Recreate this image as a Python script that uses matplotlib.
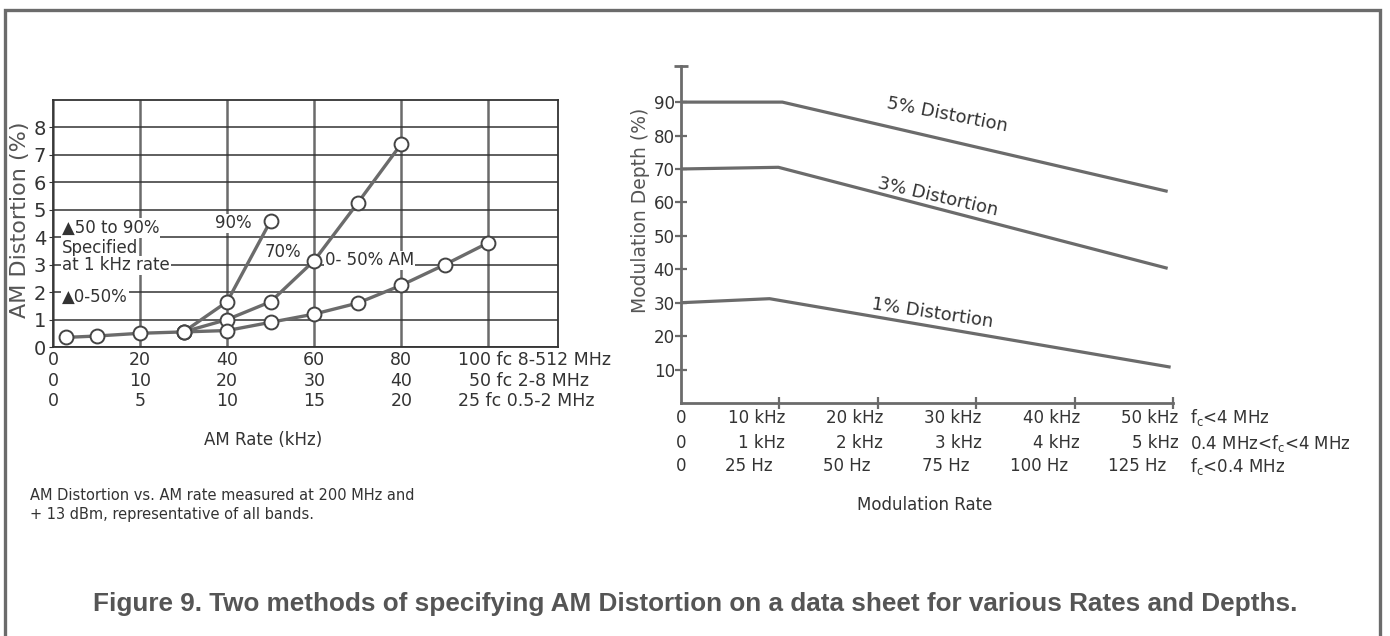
import matplotlib.pyplot as plt
from matplotlib.patches import Rectangle

plt.rcParams["font.family"] = "DejaVu Sans"
plt.rcParams["mathtext.fontset"] = "dejavusans"

GRAY = "#6b6b6b"
DARK = "#333333"

# left chart: AM distortion vs AM rate
base_x = [3, 10, 20, 30, 40, 50, 60, 70, 80, 90, 100]
base_y = [0.35, 0.4, 0.5, 0.55, 0.6, 0.9, 1.2, 1.6, 2.25, 3.0, 3.8]
am70_x = [30, 40, 50, 60, 70, 80]
am70_y = [0.55, 1.0, 1.65, 3.15, 5.25, 7.4]
am90_x = [30, 40, 50]
am90_y = [0.55, 1.65, 4.6]

left_ticks = [0, 20, 40, 60, 80]
left_rows = [["0", "20", "40", "60", "80"],
             ["0", "10", "20", "30", "40"],
             ["0", "5", "10", "15", "20"]]
left_last = ["100 fc 8-512 MHz", "50 fc 2-8 MHz", "25 fc 0.5-2 MHz"]

# right chart: modulation depth vs modulation rate
d5_x = [0, 10.3, 49.3]
d5_y = [90, 90, 63.4]
d3_x = [0, 9.9, 49.3]
d3_y = [70, 70.5, 40.4]
d1_x = [0, 9, 49.6]
d1_y = [30, 31.2, 10.8]

rate_ticks = [0, 10, 20, 30, 40, 50]
rate_rows = [["0", "10 kHz", "20 kHz", "30 kHz", "40 kHz", "50 kHz"],
             ["0", "1 kHz", "2 kHz", "3 kHz", "4 kHz", "5 kHz"],
             ["0", "25 Hz", "50 Hz", "75 Hz", "100 Hz", "125 Hz"]]
band_labels = [r"f$_\mathrm{c}$<4 MHz", r"0.4 MHz<f$_\mathrm{c}$<4 MHz",
               r"f$_\mathrm{c}$<0.4 MHz"]

W, H = 1390, 636
fig = plt.figure(figsize=(W / 100, H / 100), dpi=100)

# outer frame
fig.patches.append(Rectangle((5 / W, -0.1), 1375 / W, 1.1 - 10 / H,
                             transform=fig.transFigure, fill=False,
                             edgecolor=GRAY, lw=2.4))

# ---- left chart ----
ax1 = fig.add_axes([53 / W, 1 - 347 / H, 505 / W, 247 / H])
ax1.set_xlim(0, 116)
ax1.set_ylim(0, 9)
ax1.set_xticks([0, 20, 40, 60, 80, 100])
ax1.set_xticklabels([])
ax1.set_yticks(range(0, 9))
ax1.tick_params(axis="x", length=0)
ax1.tick_params(axis="y", length=3, color=DARK, labelsize=14, labelcolor=DARK, pad=2)
ax1.xaxis.grid(True, color=GRAY, lw=1.8)
ax1.yaxis.grid(True, color=DARK, lw=1.1)
for s in ax1.spines.values():
    s.set_color(DARK)
    s.set_linewidth(1.3)

mk = dict(marker="o", ms=10, mfc="white", mec="#444444", mew=1.4, color=GRAY, lw=2.4)
ax1.plot(base_x, base_y, **mk, zorder=4)
ax1.plot(am70_x, am70_y, **mk, zorder=3)
ax1.plot(am90_x, am90_y, **mk, zorder=3)

bb = dict(facecolor="white", edgecolor="none", pad=0.5)
txt = dict(fontsize=12, color=DARK, ha="left", va="center", bbox=bb, zorder=5)
ax1.text(2.1, 4.33, "▲50 to 90%", **txt)
ax1.text(2.1, 3.6, "Specified", **txt)
ax1.text(2.1, 2.98, "at 1 kHz rate", **txt)
ax1.text(2.1, 1.82, "▲0-50%", **txt)
ax1.text(37.2, 4.5, "90%", **txt)
ax1.text(48.7, 3.45, "70%", **txt)
ax1.text(62.5, 3.16, "0- 50% AM", **txt)

for r, (row, last, off) in enumerate(zip(left_rows, left_last, [9.4, 24.5, 39])):
    for x, lab in zip(left_ticks, row):
        ax1.annotate(lab, xy=(x, 0), xycoords=("data", "axes fraction"),
                     xytext=(0, -off), textcoords="offset points",
                     ha="center", va="center", fontsize=12.5, color=DARK,
                     annotation_clip=False)
    ax1.annotate(last, xy=(100, 0), xycoords=("data", "axes fraction"),
                 xytext=(-22 if r != 1 else -14, -off), textcoords="offset points",
                 ha="left", va="center", fontsize=12.5, color=DARK,
                 annotation_clip=False)

fig.text(263 / W, 1 - 440 / H, "AM Rate (kHz)", ha="center", va="center",
         fontsize=12, color=DARK)
fig.text(20 / W, 1 - 220 / H, "AM Distortion (%)", rotation=90, ha="center",
         va="center", fontsize=16, color="#555555")
fig.text(30 / W, 1 - 495 / H, "AM Distortion vs. AM rate measured at 200 MHz and",
         ha="left", va="center", fontsize=10.5, color=DARK)
fig.text(30 / W, 1 - 515 / H, "+ 13 dBm, representative of all bands.",
         ha="left", va="center", fontsize=10.5, color=DARK)

# ---- right chart ----
ax2 = fig.add_axes([681 / W, 1 - 403 / H, 492 / W, 337 / H])
ax2.set_xlim(0, 50)
ax2.set_ylim(0, 100.8)
for s in ["top", "right"]:
    ax2.spines[s].set_visible(False)
for s in ["left", "bottom"]:
    ax2.spines[s].set_color(GRAY)
    ax2.spines[s].set_linewidth(2)
ax2.set_yticks(range(10, 100, 10))
ax2.set_xticks(rate_ticks[1:])
ax2.set_xticklabels([])
ax2.tick_params(direction="inout", length=9, width=1.6, color=GRAY)
ax2.tick_params(axis="y", labelsize=12, labelcolor=DARK, pad=0)
ax2.plot(0, 100.8, marker="_", ms=10, mew=2, color=GRAY, clip_on=False)

for xs, ys in [(d5_x, d5_y), (d3_x, d3_y), (d1_x, d1_y)]:
    ax2.plot(xs, ys, color=GRAY, lw=2.3)

lab = dict(fontsize=13, color=DARK, ha="center", va="center", rotation_mode="anchor")
ax2.text(27.1, 86.3, "5% Distortion", rotation=-11, **lab)
ax2.text(26.1, 61.7, "3% Distortion", rotation=-13, **lab)
ax2.text(25.5, 27, "1% Distortion", rotation=-8.5, **lab)

for row, off, dx in zip(rate_rows, [10.8, 28.8, 45.4], [4, 4, -5]):
    for x, t in zip(rate_ticks, row):
        if x == 0:
            ax2.annotate(t, xy=(x, 0), xycoords=("data", "axes fraction"),
                         xytext=(0, -off), textcoords="offset points",
                         ha="center", va="center", fontsize=12, color=DARK,
                         annotation_clip=False)
        else:
            ax2.annotate(t, xy=(x, 0), xycoords=("data", "axes fraction"),
                         xytext=(dx, -off), textcoords="offset points",
                         ha="right", va="center", fontsize=12, color=DARK,
                         annotation_clip=False)
for t, off in zip(band_labels, [10.8, 28.8, 45.4]):
    ax2.annotate(t, xy=(50, 0), xycoords=("data", "axes fraction"),
                 xytext=(12, -off), textcoords="offset points",
                 ha="left", va="center", fontsize=12, color=DARK,
                 annotation_clip=False)

fig.text(925 / W, 1 - 505 / H, "Modulation Rate", ha="center", va="center",
         fontsize=12, color=DARK)
fig.text(640 / W, 1 - 210 / H, "Modulation Depth (%)", rotation=90, ha="center",
         va="center", fontsize=13.5, color="#555555")

fig.text(695 / W, 1 - 604 / H,
         "Figure 9. Two methods of specifying AM Distortion on a data sheet for various Rates and Depths.",
         ha="center", va="center", fontsize=18.8, fontweight="bold",
         family="Liberation Sans", color="#555555")

fig.savefig("out.png", dpi=100)
